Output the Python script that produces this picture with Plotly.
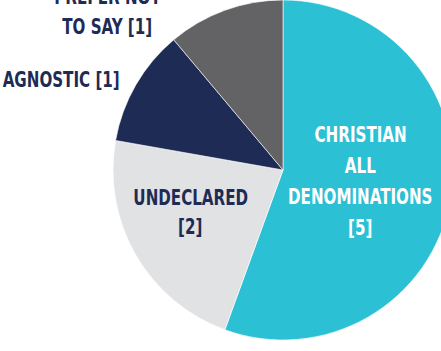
import plotly.graph_objects as go

labels = ["CHRISTIAN ALL DENOMINATIONS", "UNDECLARED", "AGNOSTIC", "PREFER NOT TO SAY"]
values = [5, 2, 1, 1]
colors = ["#2CC0D5", "#E1E2E4", "#1E2B55", "#636365"]
label_lines = [["CHRISTIAN", "ALL", "DENOMINATIONS", "[5]"],
               ["UNDECLARED", "[2]"],
               ["AGNOSTIC [1]"],
               ["PREFER NOT", "TO SAY [1]"]]
label_colors = ["#FFFFFF", "#1E2B55", "#1E2B55", "#1E2B55"]
# label block centre (px) and line spacing
label_pos = [(360, 181), (190, 212), (61, 80), (107, 12)]
line_gap = [31, 29, 30, 31]

W, H = 470, 351
FONT = "DejaVu Sans Condensed, Liberation Sans Narrow, sans-serif"

fig = go.Figure(go.Pie(
    labels=labels, values=values, sort=False, direction="clockwise", rotation=0,
    marker=dict(colors=colors, line=dict(color="#FFFFFF", width=0.6)),
    textinfo="none", hoverinfo="label+value", showlegend=False,
    domain=dict(x=[113 / W, 453 / W], y=[11 / H, 1.0]),
))

ann = []
for lines, col, (cx, cy), gap in zip(label_lines, label_colors, label_pos, line_gap):
    n = len(lines)
    for i, t in enumerate(lines):
        py = cy + (i - (n - 1) / 2) * gap
        ann.append(dict(text=t, x=cx / W, y=1 - py / H, xref="paper", yref="paper",
                        xanchor="center", yanchor="middle", showarrow=False,
                        font=dict(family=FONT, size=21, color=col, weight="bold")))

fig.update_layout(width=W, height=H, margin=dict(l=0, r=0, t=0, b=0),
                  paper_bgcolor="white", plot_bgcolor="white", annotations=ann)

post = (
    "document.documentElement.style.overflow='hidden';"
    "document.body.style.overflow='hidden';document.body.style.margin='0';"
    "var gd=document.getElementById('{plot_id}');"
    "gd.querySelectorAll('.annotation-text').forEach(function(t){"
    "var L=t.getComputedTextLength();"
    "t.setAttribute('textLength',(L*0.8).toFixed(1));"
    "t.setAttribute('lengthAdjust','spacingAndGlyphs');});"
)
fig.write_html("out.html", post_script=post)
